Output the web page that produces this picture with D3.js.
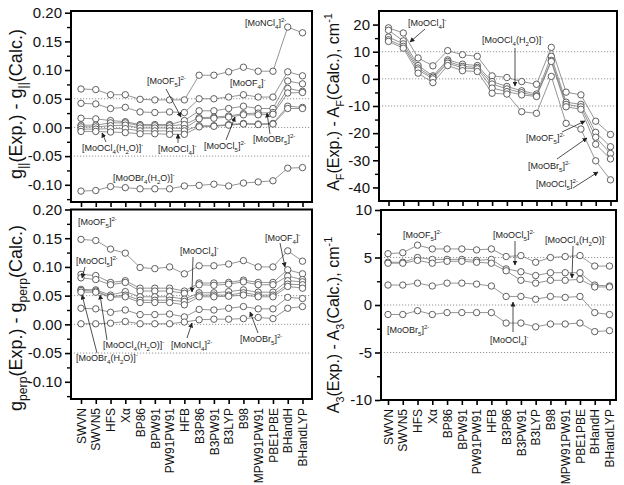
<!DOCTYPE html>
<html><head><meta charset="utf-8">
<script src="https://cdn.jsdelivr.net/npm/d3@7"></script>
<style>
html,body{margin:0;padding:0;background:#fff;}
svg text{font-family:"Liberation Sans",Arial,sans-serif;}
</style>
</head><body>
<svg id="c" width="624" height="485"></svg>
<script>
// ---------- DATA ----------
const methods = ["SWVN","SWVN5","HFS","Xα","BP86","BPW91","PW91PW91","HFB","B3P86","B3PW91","B3LYP","B98","MPW91PW91","PBE1PBE","BHandH","BHandLYP"];

// g|| (Exp.) - g|| (Calc.)
const gPar_MoNCl4   = [0.067,0.066,0.057,0.057,0.049,0.048,0.048,0.048,0.091,0.091,0.097,0.105,0.098,0.098,0.175,0.165];
const gPar_MoOF4    = [0.042,0.041,0.033,0.035,0.027,0.026,0.027,0.026,0.050,0.050,0.053,0.057,0.053,0.053,0.097,0.090];
const gPar_MoOF5    = [0.016,0.015,0.012,0.010,0.005,0.005,0.005,0.012,0.029,0.029,0.033,0.037,0.033,0.033,0.081,0.076];
const gPar_MoOBr5   = [0.004,0.004,0.008,0.008,0.003,0.003,0.003,0.005,0.017,0.018,0.020,0.024,0.025,0.026,0.068,0.063];
const gPar_MoOCl5   = [0.001,0.001,0.003,0.004,-0.001,-0.001,-0.001,-0.002,0.015,0.016,0.018,0.022,0.022,0.023,0.060,0.061];
const gPar_MoOCl4   = [-0.003,-0.003,-0.002,-0.002,-0.006,-0.006,-0.006,-0.006,0.003,0.003,0.005,0.007,0.006,0.007,0.037,0.035];
const gPar_MoOCl4aq = [-0.007,-0.007,-0.008,-0.009,-0.011,-0.011,-0.012,-0.012,0.001,0.002,0.004,0.006,0.005,0.006,0.033,0.033];
const gPar_MoOBr4aq = [-0.111,-0.110,-0.103,-0.105,-0.107,-0.107,-0.107,-0.102,-0.101,-0.099,-0.102,-0.097,-0.095,-0.093,-0.071,-0.070];

// A_F (Exp.) - A_F (Calc.)
const aF_1 = [18.8,16.9,7.7,4.8,10.4,8.9,8.3,1.1,0.5,-1.0,-2.0,11.6,-4.9,-5.9,-15.6,-20.5];
const aF_2 = [17.9,14.0,4.9,1.1,7.0,5.4,4.9,-1.0,-2.8,-4.4,-5.6,8.3,-8.6,-9.4,-19.7,-25.0];
const aF_3 = [15.4,12.9,4.0,0.6,6.4,4.6,4.2,-1.9,-3.7,-5.1,-6.2,6.8,-9.4,-10.3,-21.5,-27.5];
const aF_4 = [14.4,12.0,3.3,0.0,5.8,4.0,3.7,-3.4,-4.7,-5.9,-6.5,6.4,-10.3,-11.2,-24.1,-29.5];
const aF_5 = [13.8,11.3,2.1,-1.4,4.9,3.0,2.7,-5.3,-5.6,-12.1,-12.7,0.9,-16.4,-18.5,-30.2,-37.2];

// g_perp (Exp.) - g_perp (Calc.)
const gPerp_1 = [0.148,0.146,0.131,0.124,0.099,0.097,0.100,0.088,0.102,0.102,0.105,0.111,0.100,0.100,0.128,0.110];
const gPerp_2 = [0.087,0.085,0.073,0.076,0.063,0.063,0.063,0.058,0.072,0.072,0.073,0.077,0.073,0.073,0.095,0.088];
const gPerp_3 = [0.081,0.078,0.069,0.073,0.058,0.058,0.058,0.054,0.069,0.068,0.070,0.074,0.069,0.069,0.084,0.078];
const gPerp_4 = [0.061,0.060,0.051,0.057,0.048,0.048,0.048,0.044,0.055,0.055,0.057,0.060,0.056,0.056,0.076,0.074];
const gPerp_5 = [0.059,0.058,0.048,0.051,0.042,0.042,0.042,0.040,0.051,0.051,0.051,0.055,0.051,0.051,0.070,0.069];
const gPerp_6 = [0.056,0.056,0.047,0.048,0.038,0.038,0.038,0.034,0.048,0.048,0.049,0.051,0.048,0.048,0.066,0.063];
const gPerp_7 = [0.028,0.027,0.021,0.025,0.017,0.017,0.018,0.013,0.026,0.025,0.028,0.031,0.027,0.027,0.047,0.045];
const gPerp_8 = [0.001,0.001,0.002,0.005,0.001,0.001,0.001,0.004,0.008,0.009,0.009,0.010,0.012,0.010,0.028,0.031];

// A_3 (Exp.) - A_3 (Calc.)
const a3_1 = [5.4,5.5,6.3,5.9,5.9,5.9,5.8,5.9,5.1,5.2,4.5,5.0,5.1,5.2,4.1,4.1];
const a3_2 = [4.5,4.5,5.0,4.8,4.8,4.8,4.7,4.8,3.8,3.5,3.1,3.4,3.4,3.4,2.1,2.0];
const a3_3 = [4.4,4.4,4.7,4.4,4.6,4.6,4.5,4.4,3.6,2.6,2.3,2.6,2.6,2.7,1.9,1.9];
const a3_4 = [2.1,2.1,2.3,2.0,2.3,2.3,2.2,2.0,0.9,0.9,0.6,0.9,0.8,0.9,-0.8,-1.0];
const a3_5 = [-1.0,-1.0,-0.6,-1.0,-0.8,-0.8,-0.8,-0.8,-1.9,-1.9,-2.3,-2.0,-2.0,-1.9,-2.8,-2.7];

// axis tick values
const ticksG = [0.20,0.15,0.10,0.05,0.00,-0.05,-0.10];
const minorG = [0.175,0.125,0.075,0.025,-0.025,-0.075,-0.125];
const gridG = [0.05,0.00,-0.05];
const ticksAF = [20,10,0,-10,-20,-30,-40];
const minorAF = [15,5,-5,-15,-25,-35];
const gridAF = [10,0,-10];
const ticksA3 = [10,5,0,-5,-10];
const minorA3 = [7.5,2.5,-2.5,-7.5];
const gridA3 = [5,0,-5];

// ---------- LAYOUT ----------
const panels = [
  {key:"TL", box:[71,312,11,202], xr:[81,302.5], yd:[-0.13,0.203], series:[gPar_MoNCl4,gPar_MoOF4,gPar_MoOF5,gPar_MoOBr5,gPar_MoOCl5,gPar_MoOCl4,gPar_MoOCl4aq,gPar_MoOBr4aq],
   ticks:ticksG, minor:minorG, grid:gridG, fmt:d3.format(".2f"), xlabels:false,
   title:"g{_||}(Exp.) - g{_||}(Calc.)", tx:22, ty:104, tfs:18,
   notes:[
    {t:"[MoNCl{_4}]{^2-}", x:245, y:26},
    {t:"[MoOF{_5}]{^2-}", x:147, y:84, a:[166,89,181,117]},
    {t:"[MoOF{_4}]{^-}", x:230, y:86},
    {t:"[MoOCl{_4}(H{_2}O)]{^-}", x:82, y:151, a:[106,142,102,133]},
    {t:"[MoOCl{_4}]{^-}", x:158, y:152, a:[178,143,178,134]},
    {t:"[MoOCl{_5}]{^2-}", x:204, y:149, a:[226,140,235,117]},
    {t:"[MoOBr{_5}]{^2-}", x:253, y:142, a:[270,134,267,113]},
    {t:"[MoOBr{_4}(H{_2}O)]{^-}", x:113, y:181}
   ]},
  {key:"TR", box:[379,617,11,201], xr:[388.5,610.5], yd:[-45,25], series:[aF_1,aF_2,aF_3,aF_4,aF_5],
   ticks:ticksAF, minor:minorAF, grid:gridAF, fmt:d3.format("d"), xlabels:false,
   title:"A{_F}(Exp.) - A{_F}(Calc.), cm{^-1}", tx:339, ty:102, tfs:16,
   notes:[
    {t:"[MoOCl{_4}]{^-}", x:408, y:26, a:[425,29,410,42]},
    {t:"[MoOCl{_4}(H{_2}O)]{^-}", x:482, y:43, a:[515,48,515,86]},
    {t:"[MoOF{_5}]{^2-}", x:526, y:141, a:[562,132,585,121]},
    {t:"[MoOBr{_5}]{^2-}", x:528, y:169, a:[557,159,587,138]},
    {t:"[MoOCl{_5}]{^2-}", x:536, y:187, a:[573,188,598,172]}
   ]},
  {key:"BL", box:[71,312,209.5,399], xr:[81,302.5], yd:[-0.13,0.20], series:[gPerp_1,gPerp_2,gPerp_3,gPerp_4,gPerp_5,gPerp_6,gPerp_7,gPerp_8],
   ticks:ticksG, minor:minorG, grid:gridG, fmt:d3.format(".2f"), xlabels:true,
   title:"g{_perp}(Exp.) - g{_perp}(Calc.)", tx:22, ty:318, tfs:18,
   notes:[
    {t:"[MoOF{_5}]{^2-}", x:78, y:225},
    {t:"[MoOCl{_5}]{^2-}", x:76, y:264, a:[85,267,82,278]},
    {t:"[MoOCl{_4}]{^-}", x:180, y:254, a:[193,257,192,292]},
    {t:"[MoOF{_4}]{^-}", x:265, y:241, a:[280,243,285,267]},
    {t:"[MoOCl{_4}(H{_2}O)]{^-}", x:103, y:348, a:[107,340,100,295]},
    {t:"[MoNCl{_4}]{^2-}", x:171, y:348, a:[187,338,192,323]},
    {t:"[MoOBr{_5}]{^2-}", x:240, y:342, a:[258,333,250,312]},
    {t:"[MoOBr{_4}(H{_2}O)]{^-}", x:76, y:361, a:[97,353,82,295]}
   ]},
  {key:"BR", box:[381,616,210,400], xr:[388,609.5], yd:[-10,10], series:[a3_1,a3_2,a3_3,a3_4,a3_5],
   ticks:ticksA3, minor:minorA3, grid:gridA3, fmt:d3.format("d"), xlabels:true,
   title:"A{_3}(Exp.) - A{_3}(Calc.), cm{^-1}", tx:339, ty:325, tfs:16,
   notes:[
    {t:"[MoOF{_5}]{^2-}", x:403, y:238},
    {t:"[MoOCl{_5}]{^2-}", x:493, y:238, a:[515,241,515,265]},
    {t:"[MoOCl{_4}(H{_2}O)]{^-}", x:545, y:243, a:[573,246,572,278]},
    {t:"[MoOBr{_5}]{^2-}", x:387, y:333},
    {t:"[MoOCl{_4}]{^-}", x:490, y:343, a:[513,332,513,302]}
   ]}
];

const svg = d3.select("#c");
svg.append("defs").append("marker")
  .attr("id","ah").attr("viewBox","0 0 10 10").attr("refX",9).attr("refY",5)
  .attr("markerWidth",5).attr("markerHeight",5).attr("markerUnits","userSpaceOnUse")
  .attr("orient","auto")
  .append("path").attr("d","M0,0 L10,5 L0,10 Z").attr("fill","#222");

function rich(textSel, str, fs){
  const re = /\{([_^])([^}]*)\}/g;
  let last = 0, m, cur = 0;
  const add = (s, kind) => {
    if (!s) return;
    let target = 0, size = fs;
    if (kind === "_") { target = fs*0.3; size = fs*0.68; }
    else if (kind === "^") { target = -fs*0.42; size = fs*0.68; }
    textSel.append("tspan").attr("font-size", size).attr("dy", target - cur).text(s);
    cur = target;
  };
  while ((m = re.exec(str)) !== null) {
    add(str.slice(last, m.index), "");
    add(m[2], m[1]);
    last = re.lastIndex;
  }
  add(str.slice(last), "");
}

const minusFix = f => v => f(v).replace("\u2212","-");

panels.forEach(p => {
  const [x0,x1,y0,y1] = p.box;
  const g = svg.append("g");
  const x = d3.scalePoint().domain(methods).range(p.xr);
  const y = d3.scaleLinear().domain(p.yd).range([y1,y0]);

  // grid
  g.selectAll(".grid").data(p.grid).join("line")
    .attr("x1",x0).attr("x2",x1).attr("y1",d=>y(d)).attr("y2",d=>y(d))
    .attr("stroke","#8a8a8a").attr("stroke-width",0.9).attr("stroke-dasharray","1.2,1.8");

  // series
  const line = d3.line().x((d,i)=>x(methods[i])).y(d=>y(d));
  p.series.forEach(s => {
    g.append("path").attr("d", line(s)).attr("fill","none").attr("stroke","#7a7a7a").attr("stroke-width",0.8);
  });
  p.series.forEach(s => {
    g.selectAll(null).data(s).join("circle")
      .attr("cx",(d,i)=>x(methods[i])).attr("cy",d=>y(d)).attr("r",3.2)
      .attr("fill","#fff").attr("stroke","#4e4e4e").attr("stroke-width",0.9);
  });

  // frame
  g.append("rect").attr("x",x0).attr("y",y0).attr("width",x1-x0).attr("height",y1-y0)
    .attr("fill","none").attr("stroke","#000").attr("stroke-width",2);

  // y axis major
  const ya = g.append("g").attr("transform",`translate(${x0-1},0)`)
    .call(d3.axisLeft(y).tickValues(p.ticks).tickSize(5).tickPadding(3).tickFormat(minusFix(p.fmt)));
  ya.select(".domain").remove();
  ya.selectAll("line").attr("stroke","#000").attr("stroke-width",1.6);
  ya.selectAll("text").attr("font-size",15).attr("fill","#111").attr("font-family","Liberation Sans, Arial, sans-serif");
  // y axis minor
  const ym = g.append("g").attr("transform",`translate(${x0-1},0)`)
    .call(d3.axisLeft(y).tickValues(p.minor).tickSize(3).tickFormat(""));
  ym.select(".domain").remove();
  ym.selectAll("line").attr("stroke","#000").attr("stroke-width",1.4);

  // x axis
  const xa = g.append("g").attr("transform",`translate(0,${y1+1})`)
    .call(d3.axisBottom(x).tickSize(4).tickPadding(4).tickFormat(p.xlabels ? (d=>d) : ""));
  xa.select(".domain").remove();
  xa.selectAll("line").attr("stroke","#000").attr("stroke-width",1.6);
  if (p.xlabels) {
    xa.selectAll("text")
      .attr("font-size",12).attr("fill","#111").attr("font-family","Liberation Sans, Arial, sans-serif")
      .attr("text-anchor","end").attr("dy","0.35em").attr("y",0)
      .attr("transform","translate(0,8) rotate(-90)");
  }

  // title
  const t = g.append("text").attr("text-anchor","middle").attr("font-size",p.tfs).attr("fill","#111")
    .attr("transform",`translate(${p.tx},${p.ty}) rotate(-90)`);
  rich(t, p.title, p.tfs);

  // annotations
  p.notes.forEach(n => {
    if (n.a) {
      g.append("line").attr("x1",n.a[0]).attr("y1",n.a[1]).attr("x2",n.a[2]).attr("y2",n.a[3])
        .attr("stroke","#222").attr("stroke-width",0.8).attr("marker-end","url(#ah)");
    }
    const tt = g.append("text").attr("x",n.x).attr("y",n.y).attr("font-size",9).attr("fill","#222");
    rich(tt, n.t, 9);
  });
});
</script>
</body></html>
